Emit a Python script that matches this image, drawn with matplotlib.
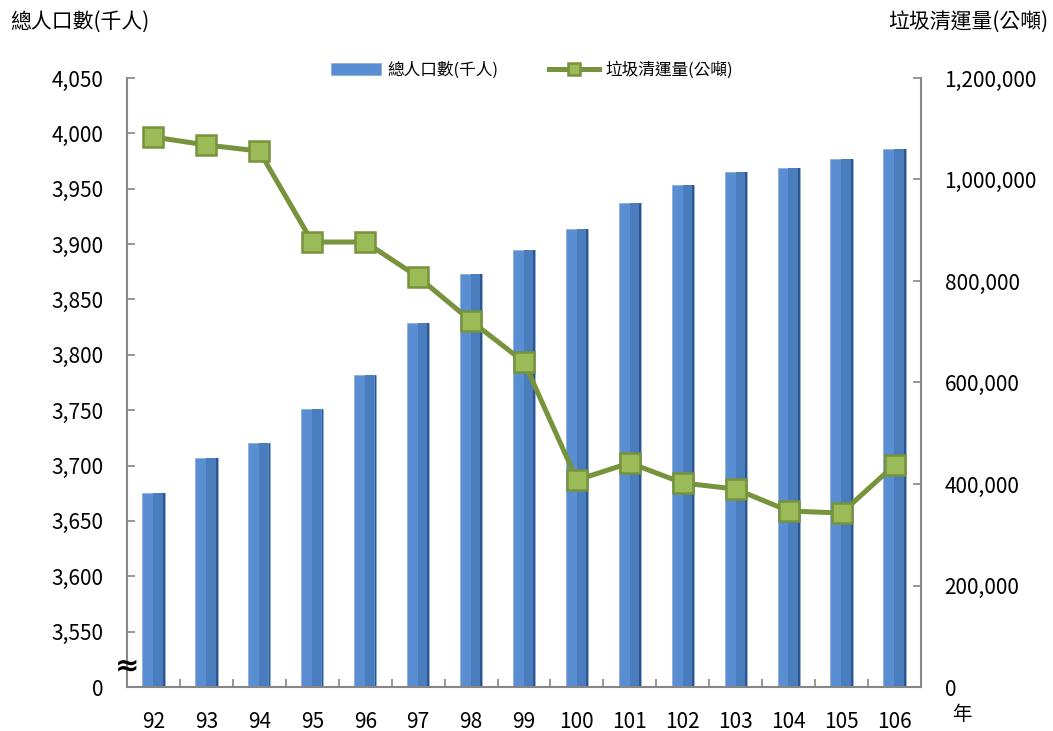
import matplotlib
matplotlib.use("Agg")
import matplotlib.pyplot as plt
from matplotlib.ticker import FuncFormatter
import numpy as np

plt.rcParams['font.family'] = ['Noto Sans CJK TC', 'DejaVu Sans']

years = ['92', '93', '94', '95', '96', '97', '98', '99', '100', '101', '102', '103', '104', '105', '106']
population = [3675, 3707, 3720, 3751, 3782, 3829, 3873, 3895, 3914, 3937, 3953, 3965, 3969, 3977, 3986]
garbage = [1083700, 1068000, 1056000, 876800, 876800, 807900, 721200, 640400,
           407900, 441400, 402000, 390000, 346800, 342800, 437400]

left_ticks = [3500, 3550, 3600, 3650, 3700, 3750, 3800, 3850, 3900, 3950, 4000, 4050]
left_labels = ['0', '3,550', '3,600', '3,650', '3,700', '3,750', '3,800', '3,850',
               '3,900', '3,950', '4,000', '4,050']

fig = plt.figure(figsize=(10.53, 7.31), dpi=100)
ax = fig.add_axes([127/1053, 44/731, 794/1053, 609/731])
x = np.arange(len(years))
base = left_ticks[0]
heights = [p - base for p in population]
bw = 0.42
ax.bar(x, heights, bottom=base, width=bw, color='#5A8ED3', edgecolor='#8FB0DC', linewidth=0.6, zorder=2,
       label='總人口數(千人)')
ax.bar(x + bw * 0.2, heights, bottom=base, width=bw * 0.42, color='#4A7DBE', linewidth=0, zorder=2.1)
ax.bar(x + bw * 0.46, heights, bottom=base, width=bw * 0.08, color='#2F568C', linewidth=0, zorder=2.2)
ax.set_xlim(-0.5, len(years) - 0.5)
ax.set_ylim(left_ticks[0], left_ticks[-1])
ax.set_yticks(left_ticks)
ax.set_yticklabels(left_labels)
ax.set_xticks(x)
ax.set_xticklabels(years)
ax.set_xticks(np.arange(-0.5, len(years), 1.0), minor=True)
ax.tick_params(axis='x', which='major', length=0, labelsize=15, pad=17)
ax.tick_params(axis='x', which='minor', length=6, direction='in', color='#868686', width=1.2)
ax.tick_params(axis='y', length=6, direction='in', color='#868686', width=1.2, labelsize=15, pad=17)
for s in ['top']:
    ax.spines[s].set_visible(False)
for s in ['left', 'right', 'bottom']:
    ax.spines[s].set_color('#868686')
    ax.spines[s].set_linewidth(1.5)

ax2 = ax.twinx()
ax2.plot(x, garbage, color='#77933C', linewidth=3.6, marker='s', markersize=15,
         markerfacecolor='#9BBB59', markeredgecolor='#77933C', markeredgewidth=1.8, zorder=3,
         label='垃圾清運量(公噸)')
ax2.set_ylim(0, 1200000)
ax2.set_yticks(np.arange(0, 1200001, 200000))
ax2.yaxis.set_major_formatter(FuncFormatter(lambda v, p: f'{int(v):,}'))
ax2.tick_params(axis='y', length=6, direction='in', color='#868686', width=1.2, labelsize=15, pad=17)
for s in ['top', 'left', 'bottom', 'right']:
    ax2.spines[s].set_visible(False)

# axis break symbol
ax.text(0, 3500 + 19, '≈', transform=ax.get_yaxis_transform(), ha='center', va='center',
        fontsize=21, fontweight='bold', family=['DejaVu Sans'], zorder=5, clip_on=False)

fig.text(10/1053, 1 - 22/731, '總人口數(千人)', ha='left', va='center', fontsize=15)
fig.text(1048/1053, 1 - 22/731, '垃圾清運量(公噸)', ha='right', va='center', fontsize=15)
fig.text(962/1053, 1 - 714/731, '年', ha='center', va='center', fontsize=14)

h1, l1 = ax.get_legend_handles_labels()
h2, l2 = ax2.get_legend_handles_labels()
leg = ax.legend(h1 + h2, l1 + l2, loc='center', bbox_to_anchor=(0.51, 1.013), ncol=2, frameon=False,
                fontsize=12, handlelength=3.0, handletextpad=0.4, columnspacing=3.0, markerscale=0.6)
fig.savefig('out.png', dpi=100)
